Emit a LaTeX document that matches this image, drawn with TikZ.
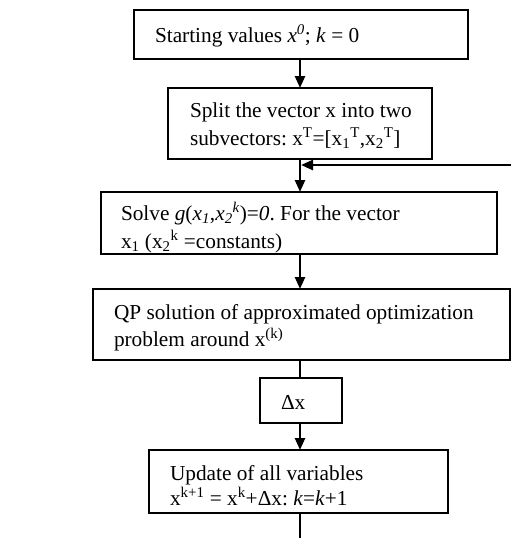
\documentclass[tikz,border=0pt]{standalone}
\usepackage{fontspec}
\setmainfont{Liberation Serif}
\usetikzlibrary{arrows.meta}
\frenchspacing
\tikzset{
  box/.style={draw, line width=1.3pt, rectangle, inner sep=0pt, outer sep=0pt},
  label/.style={anchor=base west, inner sep=0pt, outer sep=0pt, align=left},
  flow/.style={line width=2.5pt},
  flowarrow/.style={line width=2.5pt, -{Triangle[length=12pt,width=10pt]}}
}
\begin{document}
\begin{tikzpicture}[x=1pt, y=-1pt]
\useasboundingbox (0,0) rectangle (511,538);
% boxes
\node[box, minimum width=334pt, minimum height=49pt] (b1) at (301,34.5) {};
\node[box, minimum width=264pt, minimum height=71pt] (b2) at (300,123.5) {};
\node[box, minimum width=396pt, minimum height=62pt] (b3) at (299,223) {};
\node[box, minimum width=417pt, minimum height=71pt] (b4) at (301.5,324.5) {};
\node[box, minimum width=82pt, minimum height=45pt] (bdx) at (301,400.5) {};
\node[box, minimum width=299pt, minimum height=63pt] (b5) at (298.5,481.5) {};
% texts (anchor = baseline of the last line)
\node[label, font=\fontsize{21.3}{28}\selectfont] (t1) at (155,42)
  {Starting values \textit{x}\textsuperscript{\itshape 0}; \textit{k} = 0};
\node[label, font=\fontsize{21.3}{28}\selectfont] (t2) at (190,145)
  {Split the vector x into two\\subvectors: x\textsuperscript{T}=[x\textsubscript{1}\textsuperscript{T},x\textsubscript{2}\textsuperscript{T}]};
\node[label, font=\fontsize{21.3}{28}\selectfont] (t3) at (121,248)
  {Solve \textit{g}(\textit{x}\textsubscript{\itshape 1},\textit{x}\textsubscript{\itshape 2}\textsuperscript{\itshape k})=\textit{0}. For the vector\\x\textsubscript{1} (x\textsubscript{2}\textsuperscript{k} =constants)};
\node[label, font=\fontsize{21.3}{27}\selectfont] (t4) at (114,346)
  {QP solution of approximated optimization\\problem around x\textsuperscript{(k)}};
\node[label, font=\fontsize{21.3}{25}\selectfont] (t5) at (170,505)
  {Update of all variables\\x\textsuperscript{k+1} = x\textsuperscript{k}+Δx: \textit{k}=\textit{k}+1};
\node[label, font=\fontsize{21.3}{25}\selectfont] (tdx) at (281,409) {Δx};
% spine and connector ends
\coordinate (spine) at (300,0);
\coordinate (fbstart) at (511,165);
\coordinate (join) at (300,165);
\coordinate (bottom) at (300,538);
% connectors
\draw[flowarrow] (b1.south -| spine) -- (b2.north -| spine);
\draw[flowarrow] (b2.south -| spine) -- (b3.north -| spine);
\draw[flowarrow, shorten >=1pt] (fbstart) -- (join);
\draw[flowarrow] (b3.south -| spine) -- (b4.north -| spine);
\draw[flow] (b4.south -| spine) -- (bdx.north -| spine);
\draw[flowarrow] (bdx.south -| spine) -- (b5.north -| spine);
\draw[flow] (b5.south -| spine) -- (bottom);
\end{tikzpicture}
\end{document}
